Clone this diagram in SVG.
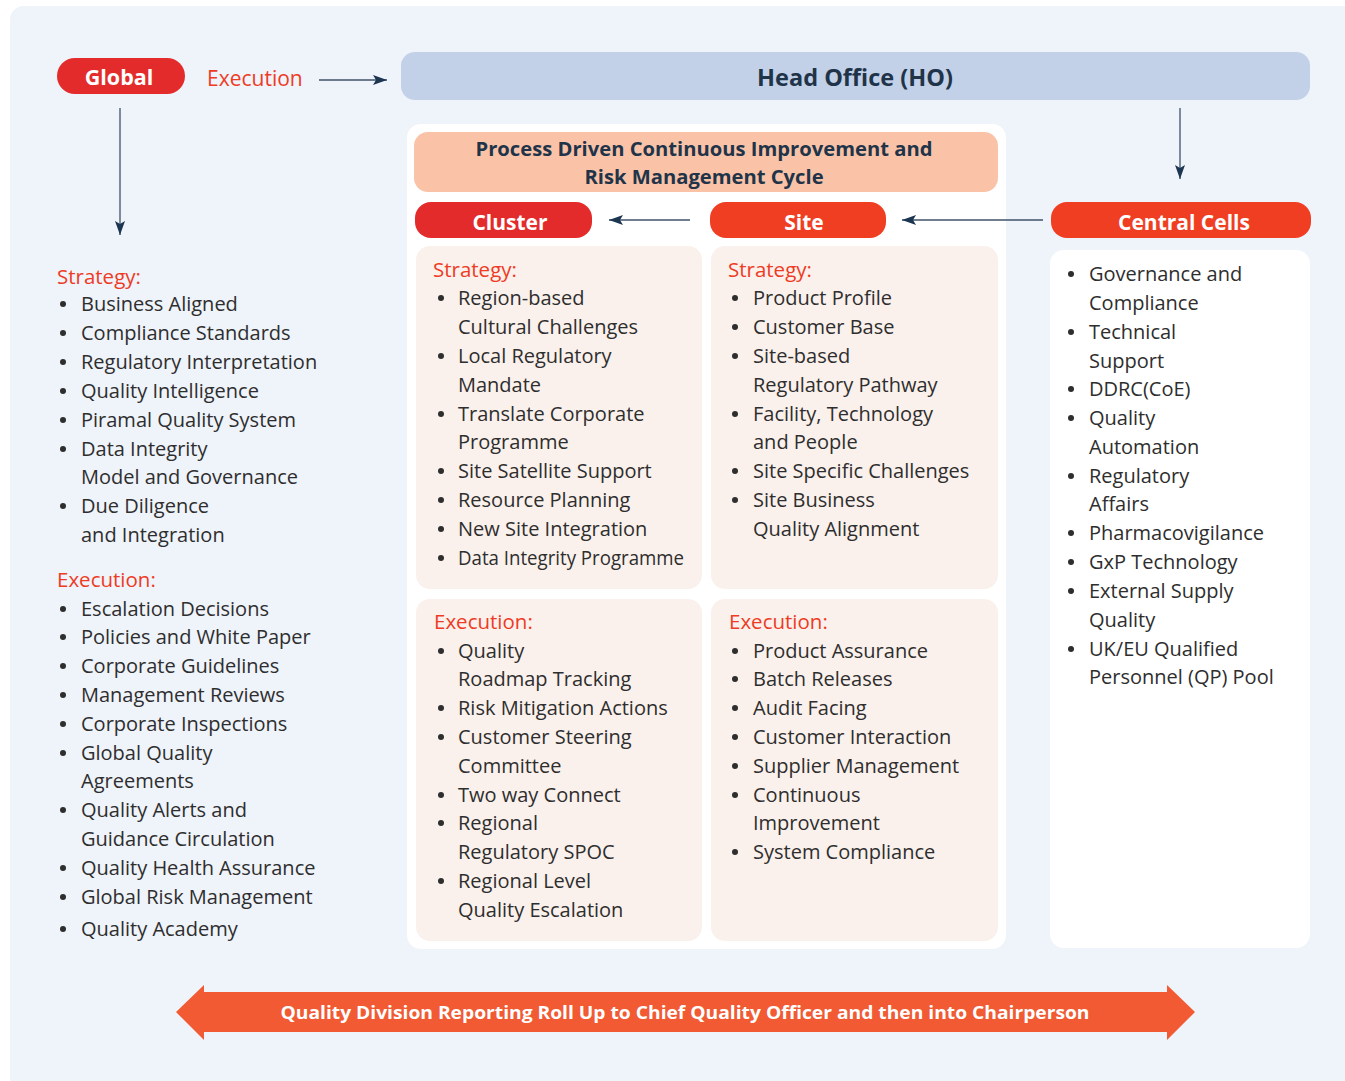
<svg xmlns="http://www.w3.org/2000/svg" width="1345" height="1081" viewBox="0 0 1345 1081">
<defs>
<marker id="ah" markerUnits="userSpaceOnUse" markerWidth="16" markerHeight="12" refX="15" refY="6" orient="auto">
<path d="M1,1 L15,6 L1,11 L4,6 z" fill="#1C3550"/>
</marker>
<style>
text{font-family:"Open Sans","Liberation Sans",sans-serif}
.it{font-size:20px;fill:#2E2E2E}
.hd{font-size:20.5px;fill:#EE3B24}
.pill{font-size:21px;font-weight:bold;fill:#fff}
.bx{fill:#FBF1EC}
.bul{fill:#2E2E2E}
.con{stroke:#3F5269;stroke-width:1.3;fill:none}
</style>
</defs>
<rect x="10" y="6" width="1345" height="1090" rx="14" fill="#EFF3FA"/>

<g id="global">
<rect x="57" y="58" width="128" height="36" rx="18" fill="#E32B2B"/>
<text class="pill" x="119" y="85" text-anchor="middle" style="font-size:21.5px">Global</text>
<text class="hd" x="207" y="86" style="font-size:21px">Execution</text>
</g>

<g id="head-office">
<rect x="401" y="52" width="909" height="48" rx="14" fill="#C2D0E8"/>
<text x="855" y="86" text-anchor="middle" style="font-size:23.5px;font-weight:bold;fill:#1F3449">Head Office (HO)</text>
</g>

<rect x="407" y="124" width="599" height="825" rx="14" fill="#FFFFFF"/>

<g id="process">
<rect x="414" y="132" width="584" height="60" rx="14" fill="#FAC3A7"/>
<text text-anchor="middle" style="font-size:20.2px;font-weight:bold;fill:#1F3449"><tspan x="704" y="156">Process Driven Continuous Improvement and</tspan><tspan x="704" y="184">Risk Management Cycle</tspan></text>
</g>

<g id="cluster">
<rect x="415" y="202" width="177" height="36" rx="16" fill="#E32B2B"/>
<text class="pill" x="510" y="230" text-anchor="middle">Cluster</text>
</g>
<g id="site">
<rect x="710" y="202" width="176" height="36" rx="16" fill="#F03E23"/>
<text class="pill" x="804" y="230" text-anchor="middle">Site</text>
</g>
<g id="central-cells">
<rect x="1051" y="202" width="260" height="36" rx="16" fill="#F03E23"/>
<text class="pill" x="1184" y="230" text-anchor="middle">Central Cells</text>
</g>

<g id="global-list">
<text class="hd" x="57" y="284">Strategy:</text>
<g class="bul"><circle cx="63" cy="304" r="3"/><circle cx="63" cy="333" r="3"/><circle cx="63" cy="362" r="3"/><circle cx="63" cy="391" r="3"/><circle cx="63" cy="420" r="3"/><circle cx="63" cy="449" r="3"/><circle cx="63" cy="506" r="3"/></g>
<text class="it"><tspan x="81" y="311">Business Aligned</tspan><tspan x="81" y="340">Compliance Standards</tspan><tspan x="81" y="369">Regulatory Interpretation</tspan><tspan x="81" y="398">Quality Intelligence</tspan><tspan x="81" y="427">Piramal Quality System</tspan><tspan x="81" y="456">Data Integrity</tspan><tspan x="81" y="484">Model and Governance</tspan><tspan x="81" y="513">Due Diligence</tspan><tspan x="81" y="542">and Integration</tspan></text>
<text class="hd" x="57" y="587">Execution:</text>
<g class="bul"><circle cx="63" cy="609" r="3"/><circle cx="63" cy="637" r="3"/><circle cx="63" cy="666" r="3"/><circle cx="63" cy="695" r="3"/><circle cx="63" cy="724" r="3"/><circle cx="63" cy="753" r="3"/><circle cx="63" cy="810" r="3"/><circle cx="63" cy="868" r="3"/><circle cx="63" cy="897" r="3"/><circle cx="63" cy="929" r="3"/></g>
<text class="it"><tspan x="81" y="616">Escalation Decisions</tspan><tspan x="81" y="644">Policies and White Paper</tspan><tspan x="81" y="673">Corporate Guidelines</tspan><tspan x="81" y="702">Management Reviews</tspan><tspan x="81" y="731">Corporate Inspections</tspan><tspan x="81" y="760">Global Quality</tspan><tspan x="81" y="788">Agreements</tspan><tspan x="81" y="817">Quality Alerts and</tspan><tspan x="81" y="846">Guidance Circulation</tspan><tspan x="81" y="875">Quality Health Assurance</tspan><tspan x="81" y="904">Global Risk Management</tspan><tspan x="81" y="936">Quality Academy</tspan></text>
</g>

<g id="cluster-strategy">
<rect class="bx" x="416" y="246" width="286" height="343" rx="14"/>
<text class="hd" x="433" y="277">Strategy:</text>
<g class="bul"><circle cx="441" cy="298" r="3"/><circle cx="441" cy="356" r="3"/><circle cx="441" cy="414" r="3"/><circle cx="441" cy="471" r="3"/><circle cx="441" cy="500" r="3"/><circle cx="441" cy="529" r="3"/><circle cx="441" cy="558" r="3"/></g>
<text class="it"><tspan x="458" y="305">Region-based</tspan><tspan x="458" y="334">Cultural Challenges</tspan><tspan x="458" y="363">Local Regulatory</tspan><tspan x="458" y="392">Mandate</tspan><tspan x="458" y="421">Translate Corporate</tspan><tspan x="458" y="449">Programme</tspan><tspan x="458" y="478">Site Satellite Support</tspan><tspan x="458" y="507">Resource Planning</tspan><tspan x="458" y="536">New Site Integration</tspan></text>
<text class="it" x="458" y="565" textLength="226" lengthAdjust="spacingAndGlyphs">Data Integrity Programme</text>
</g>

<g id="cluster-execution">
<rect class="bx" x="416" y="599" width="286" height="342" rx="14"/>
<text class="hd" x="434" y="629">Execution:</text>
<g class="bul"><circle cx="441" cy="651" r="3"/><circle cx="441" cy="708" r="3"/><circle cx="441" cy="737" r="3"/><circle cx="441" cy="795" r="3"/><circle cx="441" cy="823" r="3"/><circle cx="441" cy="881" r="3"/></g>
<text class="it"><tspan x="458" y="658">Quality</tspan><tspan x="458" y="686">Roadmap Tracking</tspan><tspan x="458" y="715">Risk Mitigation Actions</tspan><tspan x="458" y="744">Customer Steering</tspan><tspan x="458" y="773">Committee</tspan><tspan x="458" y="802">Two way Connect</tspan><tspan x="458" y="830">Regional</tspan><tspan x="458" y="859">Regulatory SPOC</tspan><tspan x="458" y="888">Regional Level</tspan><tspan x="458" y="917">Quality Escalation</tspan></text>
</g>

<g id="site-strategy">
<rect class="bx" x="711" y="246" width="287" height="343" rx="14"/>
<text class="hd" x="728" y="277">Strategy:</text>
<g class="bul"><circle cx="735" cy="298" r="3"/><circle cx="735" cy="327" r="3"/><circle cx="735" cy="356" r="3"/><circle cx="735" cy="414" r="3"/><circle cx="735" cy="471" r="3"/><circle cx="735" cy="500" r="3"/></g>
<text class="it"><tspan x="753" y="305">Product Profile</tspan><tspan x="753" y="334">Customer Base</tspan><tspan x="753" y="363">Site-based</tspan><tspan x="753" y="392">Regulatory Pathway</tspan><tspan x="753" y="421">Facility, Technology</tspan><tspan x="753" y="449">and People</tspan><tspan x="753" y="478">Site Specific Challenges</tspan><tspan x="753" y="507">Site Business</tspan><tspan x="753" y="536">Quality Alignment</tspan></text>
</g>

<g id="site-execution">
<rect class="bx" x="711" y="599" width="287" height="342" rx="14"/>
<text class="hd" x="729" y="629">Execution:</text>
<g class="bul"><circle cx="735" cy="651" r="3"/><circle cx="735" cy="679" r="3"/><circle cx="735" cy="708" r="3"/><circle cx="735" cy="737" r="3"/><circle cx="735" cy="766" r="3"/><circle cx="735" cy="795" r="3"/><circle cx="735" cy="852" r="3"/></g>
<text class="it"><tspan x="753" y="658">Product Assurance</tspan><tspan x="753" y="686">Batch Releases</tspan><tspan x="753" y="715">Audit Facing</tspan><tspan x="753" y="744">Customer Interaction</tspan><tspan x="753" y="773">Supplier Management</tspan><tspan x="753" y="802">Continuous</tspan><tspan x="753" y="830">Improvement</tspan><tspan x="753" y="859">System Compliance</tspan></text>
</g>

<g id="central-list">
<rect x="1050" y="250" width="260" height="698" rx="14" fill="#FFFFFF"/>
<g class="bul"><circle cx="1071" cy="274" r="3"/><circle cx="1071" cy="332" r="3"/><circle cx="1071" cy="389" r="3"/><circle cx="1071" cy="418" r="3"/><circle cx="1071" cy="476" r="3"/><circle cx="1071" cy="533" r="3"/><circle cx="1071" cy="562" r="3"/><circle cx="1071" cy="591" r="3"/><circle cx="1071" cy="649" r="3"/></g>
<text class="it"><tspan x="1089" y="281">Governance and</tspan><tspan x="1089" y="310">Compliance</tspan><tspan x="1089" y="339">Technical</tspan><tspan x="1089" y="368">Support</tspan><tspan x="1089" y="396">DDRC(CoE)</tspan><tspan x="1089" y="425">Quality</tspan><tspan x="1089" y="454">Automation</tspan><tspan x="1089" y="483">Regulatory</tspan><tspan x="1089" y="511">Affairs</tspan><tspan x="1089" y="540">Pharmacovigilance</tspan><tspan x="1089" y="569">GxP Technology</tspan><tspan x="1089" y="598">External Supply</tspan><tspan x="1089" y="627">Quality</tspan><tspan x="1089" y="656">UK/EU Qualified</tspan><tspan x="1089" y="684">Personnel (QP) Pool</tspan></text>
</g>

<g id="reporting-arrow">
<polygon points="176,1012 204,985 204,992 1167,992 1167,985 1195,1012 1167,1040 1167,1032 204,1032 204,1040" fill="#F15A33"/>
<text x="685" y="1019" text-anchor="middle" textLength="809" lengthAdjust="spacingAndGlyphs" style="font-size:18px;font-weight:bold;fill:#fff">Quality Division Reporting Roll Up to Chief Quality Officer and then into Chairperson</text>
</g>

<g id="connectors">
<line class="con" x1="319" y1="80" x2="387" y2="80" marker-end="url(#ah)"/>
<line class="con" x1="120" y1="108" x2="120" y2="235" marker-end="url(#ah)"/>
<line class="con" x1="1180" y1="108" x2="1180" y2="179" marker-end="url(#ah)"/>
<line class="con" x1="690" y1="220" x2="609" y2="220" marker-end="url(#ah)"/>
<line class="con" x1="1043" y1="220" x2="902" y2="220" marker-end="url(#ah)"/>
</g>
</svg>
